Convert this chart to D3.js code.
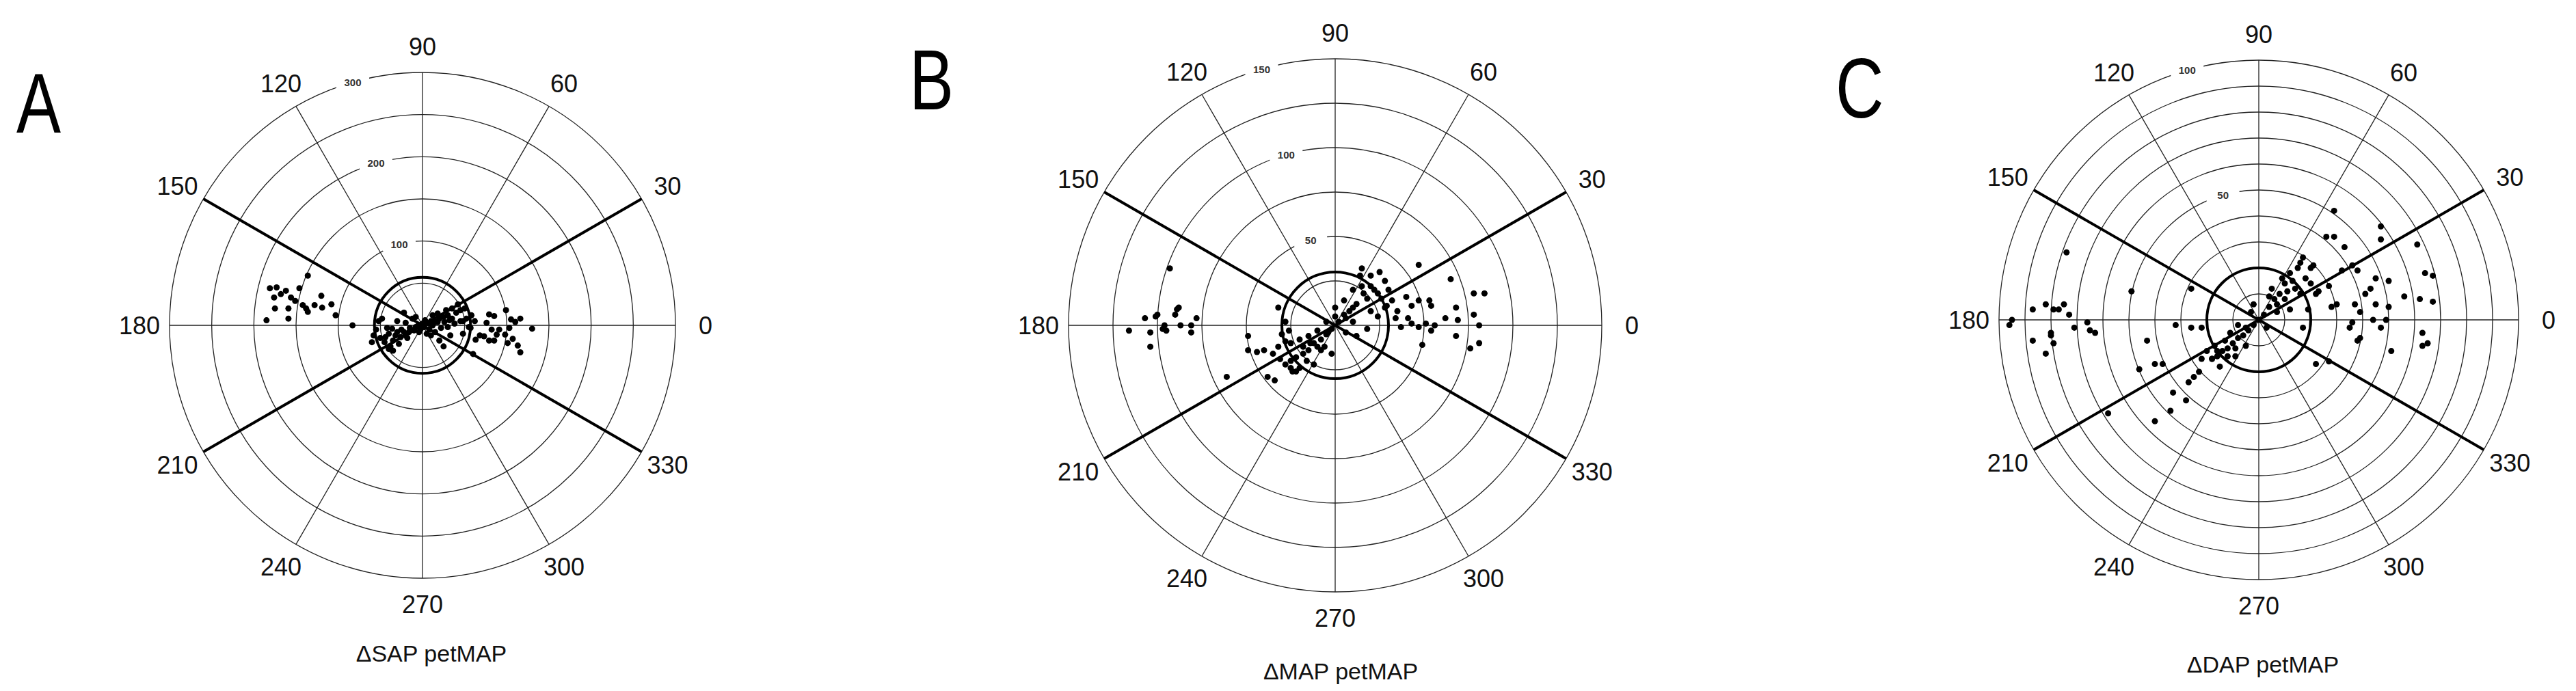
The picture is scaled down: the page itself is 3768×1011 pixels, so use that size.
<!DOCTYPE html>
<html><head><meta charset="utf-8">
<script src="https://cdn.jsdelivr.net/npm/d3@7"></script>
<style>body{margin:0;background:#fff}</style></head>
<body><svg id="c" width="3768" height="1011"></svg>
<script>
const angleTicks = [0,30,60,90,120,150,180,210,240,270,300,330];
const thickAngles = [30,150,210,330];
// Panel A: ΔSAP (x,y components in data units)
const ptsA = [[-181,44],[-173,45],[-162,41],[-146,44],[-136,59],[-176,33],[-168,37],[-156,33],[-142,24],[-138,20],[-128,24],[-120,35],[-108,25],[-103,12],[-185,6],[-175,20],[-159,20],[-159,8],[-136,16],[-119,21],[-83,0],[-151,29],
[79,13],[85,11],[99,18],[116,8],[103,-3],[82,-5],[88,-11],[79,-18],[98,-11],[107,-16],[113,-24],[116,-32],[130,-4],[63,-17],[68,-12],[60,-34],[76,3],[91,-5],[105,7],[110,4],[57,-3],[48,5],[73,-13],[85,-18],[101,-21],
[-50,-15],[-45,-20],[-40,-10],[-35,-18],[-30,-8],[-25,-5],[-20,-12],[-15,-3],[-10,-6],[-5,0],[0,2],[5,3],[10,5],[15,4],[20,8],[25,10],[30,12],[35,8],[40,15],[45,18],[50,20],[-55,-5],[-52,5],[-48,8],[-30,5],[-20,3],[-12,8],[8,-5],[15,-8],[22,-3],[30,-2],[38,2],[45,5],[52,8],[55,-2],[42,25],[35,20],[28,18],[18,14],[-8,10],[-38,-25],[-28,-22],[-18,-15],[10,-12],[20,-18],[5,-10],[-2,-4],[3,6],[12,12],[-60,-20],[-58,-12],[-42,-3],[48,-10],[33,-12],[58,12],[62,5],[25,-25],[-22,15],[-40,-28],[-35,-30],
[-32,-12],[-26,-14],[-22,-8],[-16,-8],[-8,-2],[2,-2],[8,2],[18,4],[26,4],[32,6],[-36,-4],[-44,-14],[12,0],[-4,-8]];
// Panel B: ΔMAP
const ptsB = [[-93,32],[-100,6],[-107,4],[-116,-3],[-104,-4],[-104,-12],[-96,0],[-95,-3],[-90,6],[-89,9],[-88,10],[-87,0],[-81,0],[-81,-4],[-78,4],[-97,-2],[-101,5],
[-49,-6],[-49,-14],[-44,-15],[-40,-14],[-35,-16],[-38,-29],[-34,-31],[-61,-29],[-31,-19],[-25,-24],[-22,-26],[-32,10],[-26,-3],[-28,-9],
[47,34],[65,26],[78,18],[84,18],[40,16],[47,14],[53,14],[54,11],[62,4],[68,10],[69,3],[78,6],[81,0],[81,-10],[76,-13],[68,-6],[56,0],[54,-3],[49,-11],[43,1],[37,-1],[34,4],[29,11],[41,4],[47,-1],[51,1],[43,11],
[25,30],[20,28],[28,25],[15,22],[22,20],[18,15],[12,12],[8,8],[5,6],[2,2],[-2,-2],[-5,-5],[-8,-8],[-12,-10],[-15,-14],[-18,-16],[-22,-18],[-25,-20],[-20,-24],[-28,-22],[30,20],[26,15],[32,14],[20,8],[10,2],[0,5],[-5,2],[-10,-3],[-15,-6],[-20,-8],[-25,-10],[-30,-5],[-28,2],[14,28],[10,20],[5,14],[0,10],[-6,-12],[-2,-16],[6,-4],[12,-6],[18,-2],[24,5],[28,10],[-32,-12],[-24,-26],[-16,-20],[35,8],[15,32],[-12,-22],
[16,18],[10,10],[6,4],[-4,-4],[-10,-12],[-14,-10],[-18,-12],[20,22],[24,18],[-8,-14]];
// Panel C: ΔDAP
const ptsC = [[-95,0],[-96,-2],[-87,4],[-87,-8],[-82,6],[-79,4],[-77,4],[-75,6],[-73,2],[-82,-13],[-80,-5],[-79,-9],[-80,-6],[-71,-3],[-66,-1],[-65,-4],[-63,-5],[-74,26],[-49,11],[-32,-2],[-43,-8],[-46,-19],[-40,-17],[-37,-17],[-40,-39],[-34,-35],[-33,-28],[-28,-31],[-27,-24],[-25,-22],[-23,-20],[-26,12],[-26,-3],[-22,-3],[-18,-15],[-16,-12],[-22,-15],[-58,-36],
[29,42],[47,36],[47,31],[26,32],[29,32],[33,28],[61,29],[67,17],[64,18],[67,7],[62,8],[56,9],[50,5],[49,0],[47,-3],[44,0],[39,3],[36,-1],[38,-8],[39,-7],[51,-12],[63,-5],[63,-10],[65,-9],[45,16],[41,10],[38,19],[36,21],[32,19],[27,13],[23,11],[22,-17],[27,-16],[30,6],[37,6],[45,6],[35,-3],[19,4],[17,-3],[21,21],[16,22],[50,15],[43,12],[28,5],
[15,20],[12,18],[18,16],[10,14],[14,12],[8,10],[6,8],[4,5],[2,2],[0,0],[-2,-2],[-4,-4],[-6,-6],[-8,-7],[-10,-9],[-12,-11],[-14,-12],[-16,-14],[-18,-15],[-15,-18],[-20,-12],[10,8],[16,10],[20,14],[5,12],[-3,3],[3,-3],[-8,-2],[-11,-5],[-5,-10],[12,4],[20,20],[17,24],[-13,-8],[-9,-14],[22,10],[7,3],[-2,6],[9,16],[-17,-10],
[13,15],[7,6],[-5,-3],[-9,-11],[-12,-14],[11,11],[4,9]];
const ringsA = [50,100,150,200,250,300], ringLabelsA = [100,200,300];
const ringsB = [25,50,75,100,125,150], ringLabelsB = [50,100,150];
const ringsC = [10,20,30,40,50,60,70,80,90,100], ringLabelsC = [50,100];
const thresholds = [57,30,20];
const letters = ["A","B","C"];
const titles = ["ΔSAP  petMAP","ΔMAP petMAP","ΔDAP petMAP"];

const svg = d3.select("#c");
const rad = d => d*Math.PI/180;
function panel(o){
  const g = svg.append("g").attr("transform",`translate(${o.cx},${o.cy})`);
  const max = o.rings[o.rings.length-1];
  const r = d3.scaleLinear().domain([0,max]).range([0,o.R]);
  const x = d3.scaleLinear().domain([-max,max]).range([-o.R,o.R]);
  const y = d3.scaleLinear().domain([-max,max]).range([o.R,-o.R]);
  g.selectAll("circle.ring").data(o.rings).join("circle").attr("r",d=>r(d))
    .attr("fill","none").attr("stroke","#222").attr("stroke-width",1.3);
  g.selectAll("line.sp").data(angleTicks).join("line")
    .attr("x1",0).attr("y1",0)
    .attr("x2",d=>o.R*Math.cos(rad(d))).attr("y2",d=>-o.R*Math.sin(rad(d)))
    .attr("stroke","#222").attr("stroke-width",1.3);
  g.selectAll("line.tk").data(thickAngles).join("line")
    .attr("x1",0).attr("y1",0)
    .attr("x2",d=>o.R*Math.cos(rad(d))).attr("y2",d=>-o.R*Math.sin(rad(d)))
    .attr("stroke","#000").attr("stroke-width",4);
  g.append("circle").attr("r",r(o.thr)).attr("fill","none").attr("stroke","#000").attr("stroke-width",4);
  const la = rad(106);
  o.labels.forEach(v=>{
    const px = r(v)*Math.cos(la), py = -r(v)*Math.sin(la);
    g.append("rect").attr("x",px-24).attr("y",py-10).attr("width",48).attr("height",20).attr("fill","#fff");
    g.append("text").attr("x",px).attr("y",py).attr("text-anchor","middle").attr("dominant-baseline","central")
      .attr("font-family","Liberation Sans, Arial").attr("font-size",15).attr("font-weight","bold").attr("fill","#333").text(v);
  });
  g.selectAll("circle.pt").data(o.pts).join("circle")
    .attr("cx",d=>x(d[0])).attr("cy",d=>y(d[1])).attr("r",4.5).attr("fill","#000");
  g.selectAll("text.ang").data(angleTicks).join("text")
    .attr("x",d=>(o.R+44)*Math.cos(rad(d))).attr("y",d=>-(o.R+38)*Math.sin(rad(d)))
    .attr("text-anchor","middle").attr("dominant-baseline","central")
    .attr("font-family","Liberation Sans, Arial").attr("font-size",36).attr("fill","#111").text(d=>d);
  svg.append("text").attr("transform",`translate(${o.lx},${o.ly}) scale(0.78,1)`)
    .attr("font-family","Liberation Sans, Arial").attr("font-size",125).attr("fill","#000").text(o.letter);
  svg.append("text").attr("x",o.tx).attr("y",o.ty).attr("text-anchor","middle").attr("dominant-baseline","central")
    .attr("font-family","Liberation Sans, Arial").attr("font-size",34).attr("fill","#111").text(o.title);
}
panel({cx:618,cy:476,R:370,rings:ringsA,labels:ringLabelsA,thr:thresholds[0],pts:ptsA,letter:letters[0],lx:24,ly:194,title:titles[0],tx:631,ty:956});
panel({cx:1953,cy:476,R:390,rings:ringsB,labels:ringLabelsB,thr:thresholds[1],pts:ptsB,letter:letters[1],lx:1330,ly:160,title:titles[1],tx:1961,ty:982});
panel({cx:3304,cy:468,R:380,rings:ringsC,labels:ringLabelsC,thr:thresholds[2],pts:ptsC,letter:letters[2],lx:2685,ly:172,title:titles[2],tx:3310,ty:972});
</script></body></html>
